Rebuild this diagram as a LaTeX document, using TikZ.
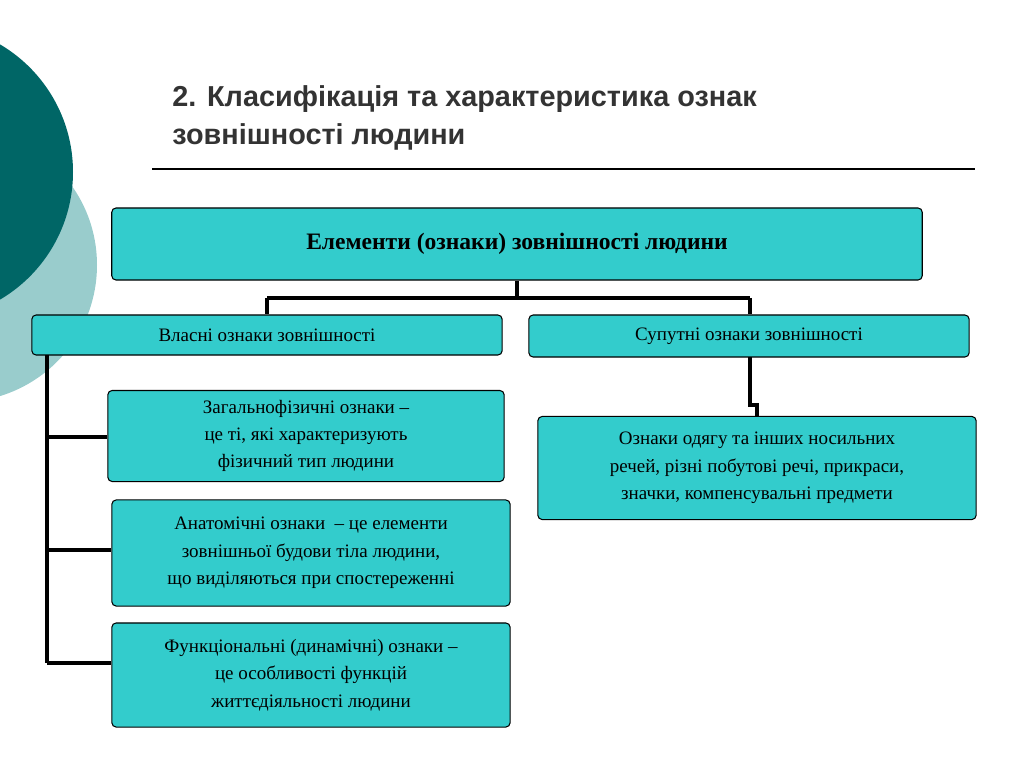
\documentclass[tikz,border=0pt]{standalone}
\usepackage{fontspec}
\setmainfont{Liberation Serif}
\newfontfamily\titlefont{Liberation Sans}
\definecolor{tq}{HTML}{33CCCC}
\definecolor{dk}{HTML}{006666}
\definecolor{lt}{HTML}{99CCCC}
\begin{document}
\begin{tikzpicture}[x=0.01cm,y=-0.01cm,
 bx/.style={draw=black,fill=tq,rounded corners=1.2pt,line width=0.3pt,align=center,inner sep=0pt,font=\fontsize{5.4pt}{7.8pt}\selectfont},
 ln/.style={line width=1.1pt}]
\useasboundingbox (0,0) rectangle (1024,767);
\begin{scope}
\clip (0,0) rectangle (1024,767);
\fill[lt] (-40,265) circle (137);
\fill[dk] (-75,172) circle (148);
\end{scope}
\node[anchor=west,font=\titlefont\bfseries\fontsize{8.2pt}{10.6pt}\selectfont,text=black!80,align=left] (t) at (160,118) {2. Класифікація та характеристика ознак\\зовнішності людини};
\draw[line width=0.4pt] (152,169) -- (975,169);
\node[bx,minimum width=8.10cm,minimum height=0.72cm,font=\bfseries\fontsize{6.7pt}{8pt}\selectfont] (top) at (517,244) {Елементи (ознаки) зовнішності людини};
\node[bx,minimum width=4.70cm,minimum height=0.40cm] (L) at (267,335) {Власні ознаки зовнішності};
\node[bx,minimum width=4.40cm,minimum height=0.42cm] (R) at (749,336) {Супутні ознаки зовнішності};
\node[bx,minimum width=3.96cm,minimum height=0.91cm] (b1) at (306,436) {Загальнофізичні ознаки –\\це ті, які характеризують\\фізичний тип людини};
\node[bx,minimum width=3.98cm,minimum height=1.06cm] (b2) at (311,553) {Анатомічні ознаки \ – це елементи\\зовнішньої будови тіла людини,\\що виділяються при спостереженні};
\node[bx,minimum width=3.98cm,minimum height=1.04cm] (b3) at (311,675) {Функціональні (динамічні) ознаки –\\це особливості функцій\\життєдіяльності людини};
\node[bx,minimum width=4.38cm,minimum height=1.03cm] (r1) at (757,468) {Ознаки одягу та інших носильних\\речей, різні побутові речі, прикраси,\\значки, компенсувальні предмети};
\draw[ln] (top.south) -- (517,298);
\draw[ln] (267,298) -- (750,298);
\draw[ln] (267,298) -- (267,298 |- L.north);
\draw[ln] (750,298) -- (750,298 |- R.north);
\draw[ln] (47,355) -- (47,663);
\draw[ln] (47,437) -- (47,437 -| b1.west);
\draw[ln] (47,550) -- (47,550 -| b2.west);
\draw[ln] (47,663) -- (47,663 -| b3.west);
\draw[ln] (750,357) -- (750,405) -- (757,405) -- (757,405 |- r1.north);
\end{tikzpicture}
\end{document}
